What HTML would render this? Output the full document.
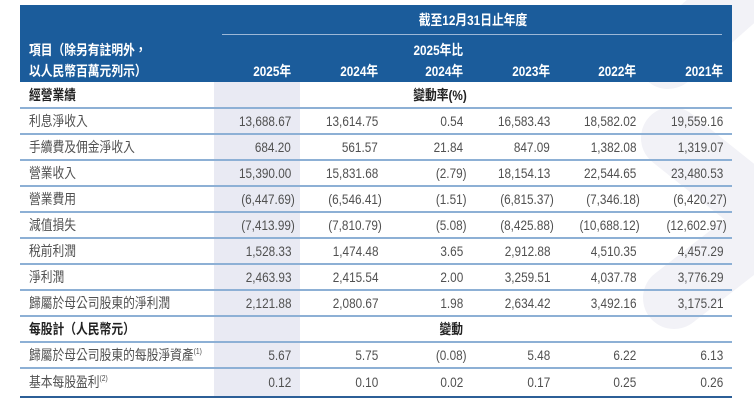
<!DOCTYPE html>
<html><head><meta charset="utf-8">
<style>
html,body{margin:0;padding:0;background:#fff;}
body{width:754px;height:411px;position:relative;overflow:hidden;font-family:"Liberation Sans","Noto Sans CJK TC",sans-serif;font-size:14px;color:#505050;}
.t{position:absolute;white-space:nowrap;height:26px;line-height:26px;}
.l{transform:scaleX(.84);transform-origin:left center;}
.r{transform:scaleX(.84);transform-origin:right center;}
.c{transform:translateX(-50%) scaleX(.84);transform-origin:center center;}
.b{font-weight:bold;color:#222;}
.h{font-weight:bold;color:#fff;}
.ln{position:absolute;left:20px;width:712px;height:1.5px;background:#8db0d5;}
sup{font-size:8px;line-height:0;vertical-align:6px;}
</style></head><body>
<svg width="754" height="411" style="position:absolute;left:0;top:0" xmlns="http://www.w3.org/2000/svg">
<g stroke="#f2f2f7" stroke-linecap="round" fill="none">
<line x1="668" y1="58" x2="790" y2="-50" stroke-width="62"/>
<line x1="672" y1="138" x2="800" y2="240" stroke-width="62"/>
<line x1="674" y1="298" x2="800" y2="200" stroke-width="62"/>
</g>
</svg>
<div style="position:absolute;left:20px;top:5px;width:712px;height:77px;background:#1b5c9b;"></div>
<div style="position:absolute;left:222px;top:34px;width:500px;height:1px;background:#9db8d7;"></div>
<div style="position:absolute;left:214px;top:82px;width:86px;height:314px;background:#e9eaf3;"></div>

<div class="t h c" style="left:473px;top:7px;">截至12月31日止年度</div>
<div class="t h l" style="left:29px;top:37px;">項目（除另有註明外，</div>
<div class="t h l" style="left:29px;top:58px;">以人民幣百萬元列示）</div>
<div class="t h r" style="right:291px;top:37px;">2025年比</div>
<div class="t h r" style="right:463px;top:58px;">2025年</div>
<div class="t h r" style="right:376px;top:58px;">2024年</div>
<div class="t h r" style="right:291px;top:58px;">2024年</div>
<div class="t h r" style="right:204px;top:58px;">2023年</div>
<div class="t h r" style="right:118px;top:58px;">2022年</div>
<div class="t h r" style="right:31px;top:58px;">2021年</div>

<div class="ln" style="top:107.25px"></div>
<div class="ln" style="top:133.25px"></div>
<div class="ln" style="top:159.25px"></div>
<div class="ln" style="top:185.25px"></div>
<div class="ln" style="top:211.25px"></div>
<div class="ln" style="top:237.25px"></div>
<div class="ln" style="top:263.25px"></div>
<div class="ln" style="top:289.25px"></div>
<div class="ln" style="top:315.25px"></div>
<div class="ln" style="top:341.25px"></div>
<div class="ln" style="top:367.25px"></div>
<div style="position:absolute;left:20px;top:395.5px;width:712px;height:2.5px;background:#2c5f97;"></div>

<!-- row 經營業績 -->
<div class="t b l" style="left:29px;top:82px;">經營業績</div>
<div class="t b r" style="right:287px;top:82px;">變動率(%)</div>

<!-- 利息淨收入 -->
<div class="t l" style="left:29px;top:108px;">利息淨收入</div>
<div class="t r" style="right:463px;top:108px;">13,688.67</div>
<div class="t r" style="right:376px;top:108px;">13,614.75</div>
<div class="t r" style="right:291px;top:108px;">0.54</div>
<div class="t r" style="right:204px;top:108px;">16,583.43</div>
<div class="t r" style="right:118px;top:108px;">18,582.02</div>
<div class="t r" style="right:31px;top:108px;">19,559.16</div>

<!-- 手續費 -->
<div class="t l" style="left:29px;top:134px;">手續費及佣金淨收入</div>
<div class="t r" style="right:463px;top:134px;">684.20</div>
<div class="t r" style="right:376px;top:134px;">561.57</div>
<div class="t r" style="right:291px;top:134px;">21.84</div>
<div class="t r" style="right:204px;top:134px;">847.09</div>
<div class="t r" style="right:118px;top:134px;">1,382.08</div>
<div class="t r" style="right:31px;top:134px;">1,319.07</div>

<!-- 營業收入 -->
<div class="t l" style="left:29px;top:160px;">營業收入</div>
<div class="t r" style="right:463px;top:160px;">15,390.00</div>
<div class="t r" style="right:376px;top:160px;">15,831.68</div>
<div class="t r" style="right:287px;top:160px;">(2.79)</div>
<div class="t r" style="right:204px;top:160px;">18,154.13</div>
<div class="t r" style="right:118px;top:160px;">22,544.65</div>
<div class="t r" style="right:31px;top:160px;">23,480.53</div>

<!-- 營業費用 -->
<div class="t l" style="left:29px;top:186px;">營業費用</div>
<div class="t r" style="right:459px;top:186px;">(6,447.69)</div>
<div class="t r" style="right:372px;top:186px;">(6,546.41)</div>
<div class="t r" style="right:287px;top:186px;">(1.51)</div>
<div class="t r" style="right:200px;top:186px;">(6,815.37)</div>
<div class="t r" style="right:114px;top:186px;">(7,346.18)</div>
<div class="t r" style="right:27px;top:186px;">(6,420.27)</div>

<!-- 減值損失 -->
<div class="t l" style="left:29px;top:212px;">減值損失</div>
<div class="t r" style="right:459px;top:212px;">(7,413.99)</div>
<div class="t r" style="right:372px;top:212px;">(7,810.79)</div>
<div class="t r" style="right:287px;top:212px;">(5.08)</div>
<div class="t r" style="right:200px;top:212px;">(8,425.88)</div>
<div class="t r" style="right:114px;top:212px;">(10,688.12)</div>
<div class="t r" style="right:27px;top:212px;">(12,602.97)</div>

<!-- 稅前利潤 -->
<div class="t l" style="left:29px;top:238px;">稅前利潤</div>
<div class="t r" style="right:463px;top:238px;">1,528.33</div>
<div class="t r" style="right:376px;top:238px;">1,474.48</div>
<div class="t r" style="right:291px;top:238px;">3.65</div>
<div class="t r" style="right:204px;top:238px;">2,912.88</div>
<div class="t r" style="right:118px;top:238px;">4,510.35</div>
<div class="t r" style="right:31px;top:238px;">4,457.29</div>

<!-- 淨利潤 -->
<div class="t l" style="left:29px;top:264px;">淨利潤</div>
<div class="t r" style="right:463px;top:264px;">2,463.93</div>
<div class="t r" style="right:376px;top:264px;">2,415.54</div>
<div class="t r" style="right:291px;top:264px;">2.00</div>
<div class="t r" style="right:204px;top:264px;">3,259.51</div>
<div class="t r" style="right:118px;top:264px;">4,037.78</div>
<div class="t r" style="right:31px;top:264px;">3,776.29</div>

<!-- 歸屬淨利潤 -->
<div class="t l" style="left:29px;top:290px;">歸屬於母公司股東的淨利潤</div>
<div class="t r" style="right:463px;top:290px;">2,121.88</div>
<div class="t r" style="right:376px;top:290px;">2,080.67</div>
<div class="t r" style="right:291px;top:290px;">1.98</div>
<div class="t r" style="right:204px;top:290px;">2,634.42</div>
<div class="t r" style="right:118px;top:290px;">3,492.16</div>
<div class="t r" style="right:31px;top:290px;">3,175.21</div>

<!-- 每股計 -->
<div class="t b l" style="left:29px;top:316px;">每股計（人民幣元）</div>
<div class="t b r" style="right:291px;top:316px;">變動</div>

<!-- 每股淨資產 -->
<div class="t l" style="left:29px;top:342px;">歸屬於母公司股東的每股淨資產<sup>(1)</sup></div>
<div class="t r" style="right:463px;top:342px;">5.67</div>
<div class="t r" style="right:376px;top:342px;">5.75</div>
<div class="t r" style="right:287px;top:342px;">(0.08)</div>
<div class="t r" style="right:204px;top:342px;">5.48</div>
<div class="t r" style="right:118px;top:342px;">6.22</div>
<div class="t r" style="right:31px;top:342px;">6.13</div>

<!-- 基本每股盈利 -->
<div class="t l" style="left:29px;top:369px;">基本每股盈利<sup>(2)</sup></div>
<div class="t r" style="right:463px;top:369px;">0.12</div>
<div class="t r" style="right:376px;top:369px;">0.10</div>
<div class="t r" style="right:291px;top:369px;">0.02</div>
<div class="t r" style="right:204px;top:369px;">0.17</div>
<div class="t r" style="right:118px;top:369px;">0.25</div>
<div class="t r" style="right:31px;top:369px;">0.26</div>
</body></html>
